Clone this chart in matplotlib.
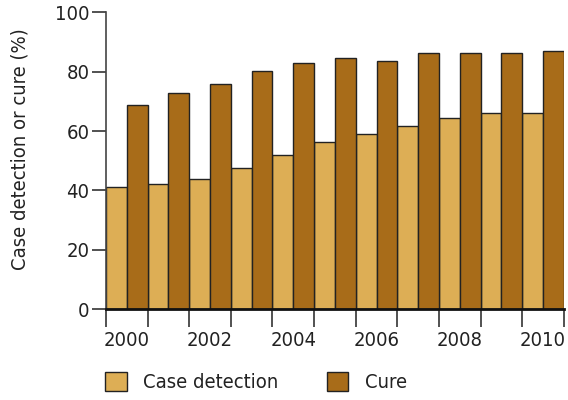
import numpy as np
import matplotlib.pyplot as plt
from matplotlib.patches import Patch

# dados
anos = [2000, 2001, 2002, 2003, 2004, 2005, 2006, 2007, 2008, 2009, 2010]
deteccao = [41.3, 42.3, 44.0, 47.5, 52.0, 56.3, 59.0, 61.6, 64.3, 66.0, 66.0]
cura = [68.7, 73.0, 75.8, 80.1, 82.8, 84.5, 83.6, 86.3, 86.3, 86.3, 87.1]
rotulos_y = [0, 20, 40, 60, 80, 100]

plt.rcParams['font.family'] = ['DejaVu Sans']
plt.rcParams['font.stretch'] = 'condensed'
plt.rcParams['font.size'] = 14.5

cor_det = "#DDAE55"
cor_cura = "#A86C19"
borda = "#222222"

fig = plt.figure(figsize=(5.68, 4.0), dpi=100)
ax = fig.add_axes([0.1866, 0.227, 0.806, 0.742])

x = np.arange(len(anos))
ax.bar(x - 0.25, deteccao, width=0.5, color=cor_det, edgecolor=borda, linewidth=1.0)
ax.bar(x + 0.25, cura, width=0.5, color=cor_cura, edgecolor=borda, linewidth=1.0)

ax.set_xlim(-0.5, len(anos) - 0.5)
ax.set_ylim(0, 100)

# ticks nas divisões, rótulos no centro dos anos pares
ax.set_xticks(np.arange(-0.5, len(anos), 1.0))
ax.set_xticklabels([])
ax.set_xticks(x[::2], minor=True)
ax.set_xticklabels([str(a) for a in anos[::2]], minor=True)
ax.tick_params(axis='x', which='major', length=13, width=1.2, color="#333333")
ax.tick_params(axis='x', which='minor', length=0, pad=16, labelcolor="#222222")

ax.set_yticks(rotulos_y)
ax.tick_params(axis='y', length=10, width=1.2, color="#333333", pad=2, labelcolor="#222222")

ax.spines['top'].set_visible(False)
ax.spines['right'].set_visible(False)
ax.spines['left'].set_color("#444444")
ax.spines['left'].set_linewidth(1.2)
ax.spines['bottom'].set_color("#111111")
ax.spines['bottom'].set_linewidth(2.0)

fig.text(0.036, 0.628, "Case detection or cure (%)", rotation=90, ha='center', va='center',
         color="#222222")

handles = [Patch(facecolor=cor_det, edgecolor=borda, label="Case detection"),
           Patch(facecolor=cor_cura, edgecolor=borda, label="Cure")]
fig.legend(handles=handles, loc='center left', bbox_to_anchor=(0.168, 0.045), ncol=2,
           frameon=False, handlelength=1.05, handleheight=1.05, handletextpad=0.8,
           columnspacing=2.45, borderpad=0, labelcolor="#222222")

fig.savefig("out.png", dpi=100)
